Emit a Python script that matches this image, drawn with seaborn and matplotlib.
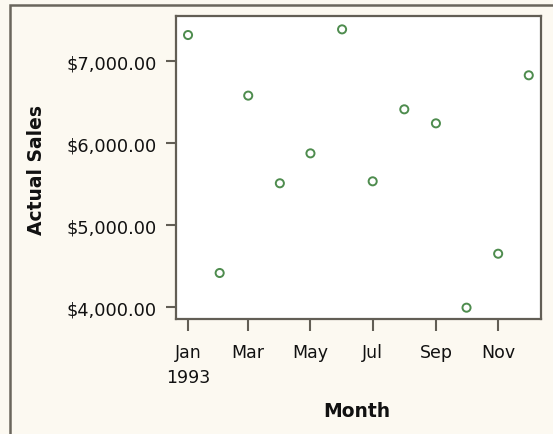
import matplotlib
matplotlib.use("Agg")
import matplotlib.pyplot as plt
import matplotlib.dates as mdates
from matplotlib.patches import Rectangle
import seaborn as sns
import pandas as pd
import numpy as np

months = ["1993-01-01", "1993-02-01", "1993-03-01", "1993-04-01", "1993-05-01", "1993-06-01",
          "1993-07-01", "1993-08-01", "1993-09-01", "1993-10-01", "1993-11-01", "1993-12-01"]
actual_sales = [7317, 4415, 6578, 5509, 5874, 7386, 5533, 6411, 6240, 3992, 4650, 6826]
tick_dates = ["1993-01-01", "1993-03-01", "1993-05-01", "1993-07-01", "1993-09-01", "1993-11-01"]
tick_labels = ["Jan\n1993", "Mar", "May", "Jul", "Sep", "Nov"]
y_ticks = [4000, 5000, 6000, 7000]

df = pd.DataFrame({"Month": pd.to_datetime(months), "Actual Sales": actual_sales})

sns.set_theme(style="white")
plt.rcParams["font.family"] = ["DejaVu Sans"]

W, H = 553, 435
bg = "#fcf9f1"
spine_c = "#625e55"
fig = plt.figure(figsize=(W / 100, H / 100), dpi=100, facecolor=bg)
ax = fig.add_axes([176 / W, (H - 320) / H, (541 - 176) / W, (320 - 17) / H])
ax.set_facecolor("white")

sns.scatterplot(data=df, x="Month", y="Actual Sales", ax=ax, marker="o", s=34,
                facecolor="none", edgecolor="#4e8c4e", linewidth=1.4, legend=False)

jan1 = mdates.date2num(pd.Timestamp("1993-01-01"))
ax.set_xlim(jan1 - 11.8, jan1 + 346)
ax.set_ylim(3854, 7549)

ax.set_xticks([mdates.date2num(pd.Timestamp(d)) for d in tick_dates])
ax.set_xticklabels(tick_labels, fontsize=12.5, color="#111111", linespacing=1.55)
ax.set_yticks(y_ticks)
ax.set_yticklabels([f"${v:,.2f}" for v in y_ticks], fontsize=12.8, color="#111111")

ax.tick_params(axis="x", length=8.5, width=1.5, color=spine_c, pad=8.5, bottom=True)
ax.tick_params(axis="y", length=7, width=1.5, color=spine_c, pad=7, left=True)
for s in ax.spines.values():
    s.set_color(spine_c)
    s.set_linewidth(1.6)

ax.set_xlabel("Month", fontsize=13.5, fontweight="bold", color="#111111")
ax.set_ylabel("Actual Sales", fontsize=13.5, fontweight="bold", color="#111111")
ax.xaxis.set_label_coords((357 - 176) / 365, (320 - 402) / 303)
ax.yaxis.set_label_coords((46.5 - 176) / 365, (320 - 170) / 303)

fig.add_artist(Rectangle((9.5 / W, -0.1), 2, 1 - 5.5 / H + 0.1, transform=fig.transFigure,
                         fill=False, edgecolor="#6a665d", linewidth=1.8))

fig.savefig("out.png", dpi=100, facecolor=bg)
